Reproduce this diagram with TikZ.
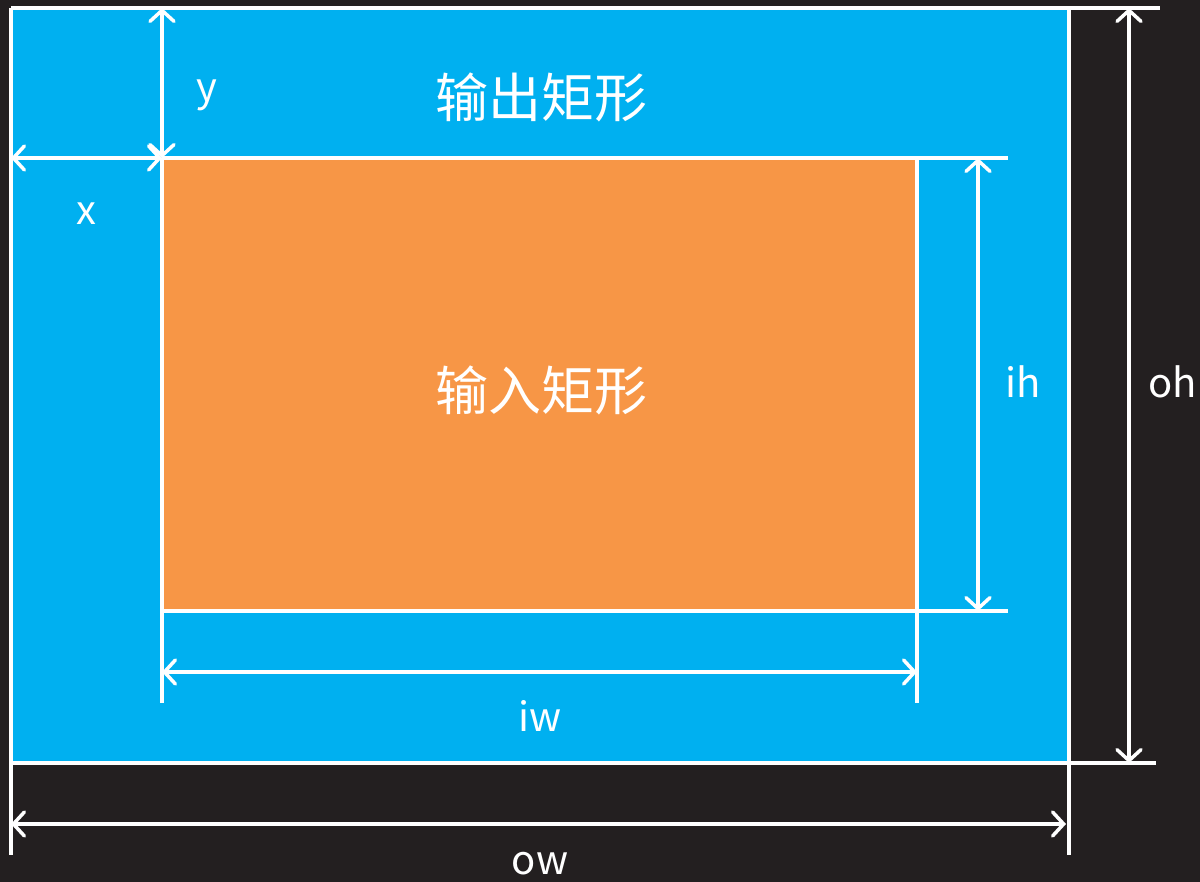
\documentclass[tikz,border=0pt]{standalone}
\usepackage{fontspec}
\newfontfamily\cjk{Noto Sans CJK SC}
\usetikzlibrary{arrows.meta}
\definecolor{bgdark}{HTML}{231F20}
\definecolor{outblue}{HTML}{00B0F0}
\definecolor{inorange}{HTML}{F79646}
\tikzset{
  wline/.style={draw=white, line width=3.5pt},
  dimarrow/.style={draw=white, line width=3.5pt, line cap=round,
    {Straight Barb[length=11pt,width=24pt,line cap=round]}-{Straight Barb[length=11pt,width=24pt,line cap=round]}},
  cjklabel/.style={text=white, font=\cjk\fontsize{53}{60}\selectfont, inner sep=0pt},
  dimlabel/.style={text=white, font=\cjk\fontsize{40}{48}\selectfont, inner sep=0pt},
}
\begin{document}
\begin{tikzpicture}[x=1pt,y=-1pt]
\fill[bgdark] (0,0) rectangle (1200,882);
\useasboundingbox (0,0) rectangle (1200,882);
% key coordinates
\coordinate (otl) at (11,8);
\coordinate (obr) at (1069,763);
\coordinate (itl) at (162,158);
\coordinate (ibr) at (917,611);
% filled rectangles
\fill[outblue] (otl) rectangle (obr);
\fill[inorange] (itl) rectangle (ibr);
% outer extension / border lines
\coordinate (otopR) at (1160,8);
\coordinate (obotL) at (11,763);
\coordinate (obotR) at (1156,763);
\coordinate (oleftB) at (11,855);
\coordinate (orightT) at (1069,8);
\coordinate (orightB) at (1069,855);
\draw[wline] (otl) -- (otopR);
\draw[wline] (obotL) -- (obotR);
\draw[wline] (otl) -- (oleftB);
\draw[wline] (orightT) -- (orightB);
% inner extension / border lines
\coordinate (itopR) at (1008,158);
\coordinate (ibotL) at (162,611);
\coordinate (ibotR) at (1008,611);
\coordinate (ileftB) at (162,703);
\coordinate (irightT) at (917,158);
\coordinate (irightB) at (917,703);
\draw[wline] (itl) -- (itopR);
\draw[wline] (ibotL) -- (ibotR);
\draw[wline] (itl) -- (ileftB);
\draw[wline] (irightT) -- (irightB);
% dimension arrows
\coordinate (xa) at (11,158);
\coordinate (ya) at (162,8);
\draw[dimarrow] (xa) -- (itl);
\draw[dimarrow] (ya) -- (itl);
\coordinate (iwa) at (162,672);
\coordinate (iwb) at (917,672);
\draw[dimarrow] (iwa) -- (iwb);
\coordinate (iha) at (978,158);
\coordinate (ihb) at (978,611);
\draw[dimarrow] (iha) -- (ihb);
\coordinate (owa) at (11,824);
\coordinate (owb) at (1066,824);
\draw[dimarrow] (owa) -- (owb);
\coordinate (oha) at (1129,8);
\coordinate (ohb) at (1129,763);
\draw[dimarrow] (oha) -- (ohb);
% labels
\node[cjklabel] (outname) at (541,97) {输出矩形};
\node[cjklabel] (inname) at (541,390) {输入矩形};
\node[dimlabel] (ylab) at (207,95) {y};
\node[dimlabel] (xlab) at (86,214) {x};
\node[dimlabel] (ihlab) at (1023,382) {ih};
\node[dimlabel] (ohlab) at (1173,382) {oh};
\node[dimlabel] (iwlab) at (540,716) {iw};
\node[dimlabel] (owlab) at (540,864) {ow};
\end{tikzpicture}
\end{document}
